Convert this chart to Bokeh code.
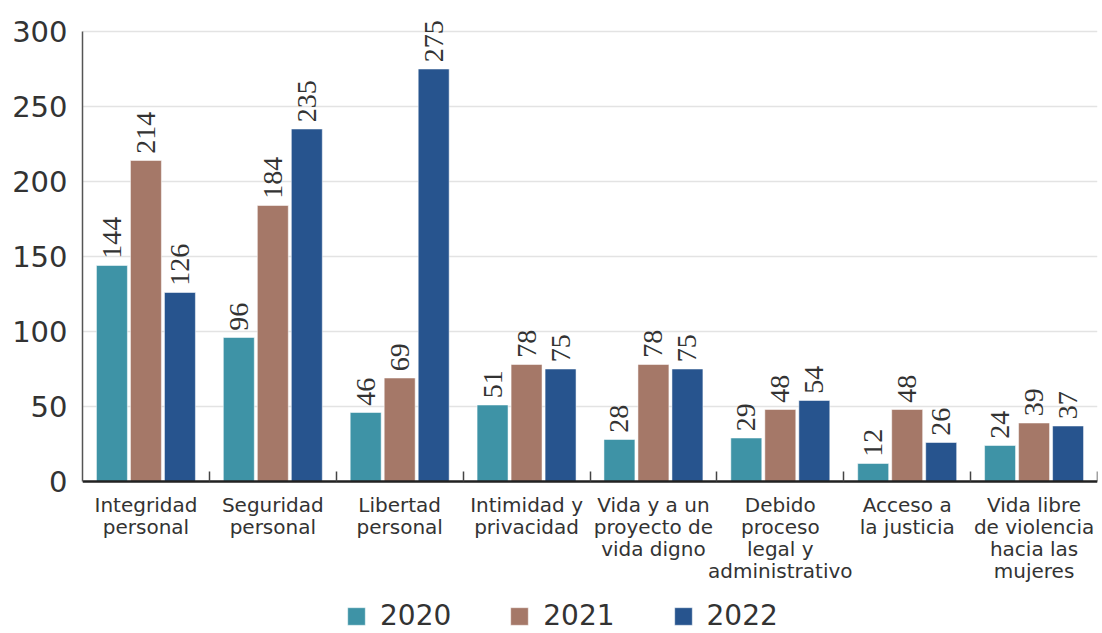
import math
from bokeh.plotting import figure
from bokeh.models import ColumnDataSource, FixedTicker, Legend, LegendItem, Range1d, LabelSet
from bokeh.embed import file_html
from bokeh.resources import INLINE

categories = ["Integridad\npersonal", "Seguridad\npersonal", "Libertad\npersonal",
              "Intimidad y\nprivacidad", "Vida y a un\nproyecto de\nvida digno",
              "Debido\nproceso\nlegal y\nadministrativo", "Acceso a\nla justicia",
              "Vida libre\nde violencia\nhacia las\nmujeres"]
years = ["2020", "2021", "2022"]
v2020 = [144, 96, 46, 51, 28, 29, 12, 24]
v2021 = [214, 184, 69, 78, 78, 48, 48, 39]
v2022 = [126, 235, 275, 75, 75, 54, 26, 37]
colors = ["#3E93A6", "#A57868", "#27548E"]
y_ticks = [0, 50, 100, 150, 200, 250, 300]

FONT = "DejaVu Sans"
TXT = "#333333"

# frame extends below zero so that the legend fits inside it; x axis is pinned at y=0
p = figure(frame_width=1015, frame_height=660, output_backend="svg", toolbar_location=None,
           x_range=Range1d(0, len(categories)), y_range=Range1d(-120, 320),
           min_border_left=82, min_border_right=3, min_border_top=1, min_border_bottom=0)
p.outline_line_color = None
p.background_fill_color = "white"

offsets = [-0.268, 0.0, 0.268]
width = 0.244
renderers = []
for vals, off, col, yr in zip([v2020, v2021, v2022], offsets, colors, years):
    xs = [i + 0.5 + off for i in range(len(categories))]
    src = ColumnDataSource(dict(x=xs, top=vals, lab=[str(v) for v in vals],
                                ly=[v + 4.5 for v in vals]))
    r = p.vbar(x="x", top="top", width=width, source=src, fill_color=col,
               line_color="white", line_alpha=0.5, line_width=1)
    renderers.append((yr, r))
    p.add_layout(LabelSet(x="x", y="ly", text="lab", source=src, angle=math.pi / 2,
                          text_align="left", text_baseline="middle", text_font=FONT,
                          text_font_size="28px", text_color=TXT))

# x axis
p.xaxis.fixed_location = 0
p.xaxis.ticker = FixedTicker(ticks=[i + 0.5 for i in range(len(categories))],
                             minor_ticks=[i + 1 for i in range(len(categories))])
p.xaxis.major_label_overrides = {i + 0.5: c for i, c in enumerate(categories)}
p.xaxis.major_tick_line_color = None
p.xaxis.minor_tick_in = 10
p.xaxis.minor_tick_out = 0
p.xaxis.minor_tick_line_color = "#444444"
p.xaxis.minor_tick_line_width = 1.5
p.xaxis.axis_line_color = "#222222"
p.xaxis.axis_line_width = 2.5
p.xaxis.major_label_text_font = FONT
p.xaxis.major_label_text_font_size = "20px"
p.xaxis.major_label_text_line_height = 0.92
p.xaxis.major_label_text_color = TXT
p.xaxis.major_label_standoff = 5
p.xgrid.visible = False

# y axis
p.yaxis.ticker = FixedTicker(ticks=y_ticks)
p.yaxis.bounds = (0, 300)
p.yaxis.major_tick_line_color = None
p.yaxis.minor_tick_line_color = None
p.yaxis.axis_line_color = "#555555"
p.yaxis.axis_line_width = 1.5
p.yaxis.major_label_text_font = FONT
p.yaxis.major_label_text_font_size = "29px"
p.yaxis.major_label_text_color = TXT
p.yaxis.major_label_standoff = 9
p.ygrid.ticker = FixedTicker(ticks=y_ticks)
p.ygrid.grid_line_color = "#e3e3e3"
p.ygrid.grid_line_width = 1.5

legend = Legend(items=[LegendItem(label=yr, renderers=[r]) for yr, r in renderers],
                orientation="horizontal", location=(263, 29),
                glyph_width=22, glyph_height=22, label_standoff=13, spacing=57,
                label_text_font=FONT, label_text_font_size="28px", label_height=30,
                label_text_color=TXT, border_line_color=None, background_fill_alpha=0,
                padding=0, margin=0)
p.add_layout(legend, "center")

open("out.html", "w").write(file_html(p, INLINE))
